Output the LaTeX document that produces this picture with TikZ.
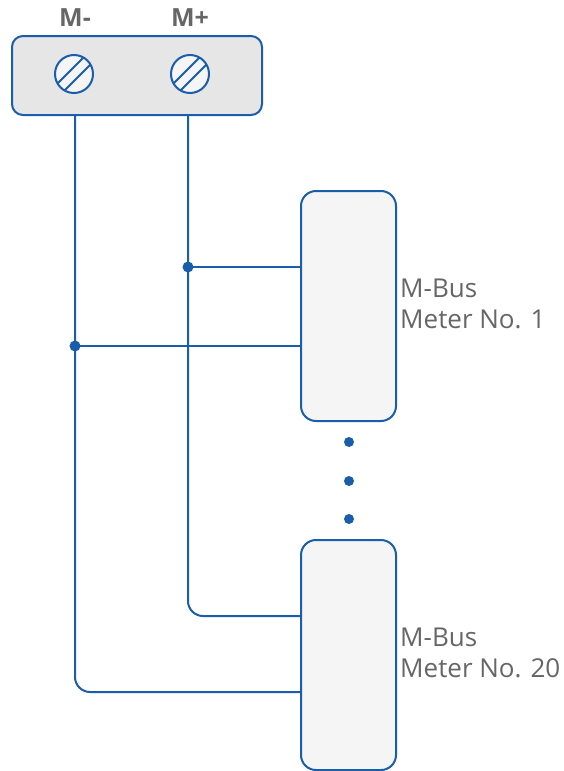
\documentclass[tikz,border=0pt]{standalone}
\usepackage{fontspec}
\setmainfont{Open Sans}
\usetikzlibrary{positioning}
\definecolor{busblue}{HTML}{1A5DAB}
\definecolor{labelgray}{HTML}{666666}
\definecolor{blockgray}{HTML}{E6E6E6}
\definecolor{meterfill}{HTML}{F5F5F5}
\tikzset{
  wire/.style={draw=busblue, line width=2pt},
  terminalblock/.style={rectangle, draw=busblue, line width=2pt, fill=blockgray,
    rounded corners=11pt, minimum width=250pt, minimum height=79pt, inner sep=0pt},
  screw/.style={circle, draw=busblue, line width=2pt, fill=meterfill,
    minimum size=38pt, inner sep=0pt,
    path picture={
      \draw[busblue, line width=2pt] ([shift={(135:5pt)}]path picture bounding box.center) ++(45:25pt) -- ++(225:50pt);
      \draw[busblue, line width=2pt] ([shift={(-45:5pt)}]path picture bounding box.center) ++(45:25pt) -- ++(225:50pt);
    }},
  meterbox/.style={rectangle, draw=busblue, line width=2pt, fill=meterfill,
    rounded corners=15pt, minimum width=95pt, minimum height=230pt, inner sep=0pt},
  meterlabel/.style={anchor=base west, inner sep=0pt, text=labelgray, align=left,
    font=\fontsize{26pt}{31pt}\selectfont},
  polelabel/.style={inner sep=0pt, text=labelgray, font=\fontsize{25pt}{30pt}\selectfont\bfseries},
  joint/.style={fill=busblue}
}
\begin{document}
\begin{tikzpicture}[x=1pt, y=-1pt]
\useasboundingbox (0,0) rectangle (563,771);

\node[terminalblock] (block) at (137,75.5) {};
\node[screw] (screwminus) at (74,74) {};
\node[screw] (screwplus) at (190,74) {};
\node[polelabel, anchor=base] (labminus) at (75,27) {M-};
\node[polelabel, anchor=base] (labplus) at (190,27) {M+};

\node[meterbox] (meter1) at (348.5,306) {};
\node[meterbox] (meter20) at (348.5,655) {};
\node[meterlabel] (name1) at (400,328) {M-Bus\\Meter No. 1};
\node[meterlabel] (name20) at (400,677) {M-Bus\\Meter No. 20};

\coordinate (tminus) at (75,115);
\coordinate (tplus) at (188,115);
\coordinate (jplus) at (188,267);
\coordinate (jminus) at (75,346);

\draw[wire, rounded corners=15pt] (tminus) |- ([yshift=-37pt]meter20.west);
\draw[wire, rounded corners=15pt] (tplus) |- ([yshift=39pt]meter20.west);
\draw[wire] (jplus) -- (jplus -| meter1.west);
\draw[wire] (jminus) -- (jminus -| meter1.west);
\fill[joint] (jplus) circle (5.5pt);
\fill[joint] (jminus) circle (5.5pt);

\foreach \y in {442,481,519}
  \fill[joint] (349,\y) circle (5pt);
\end{tikzpicture}
\end{document}
